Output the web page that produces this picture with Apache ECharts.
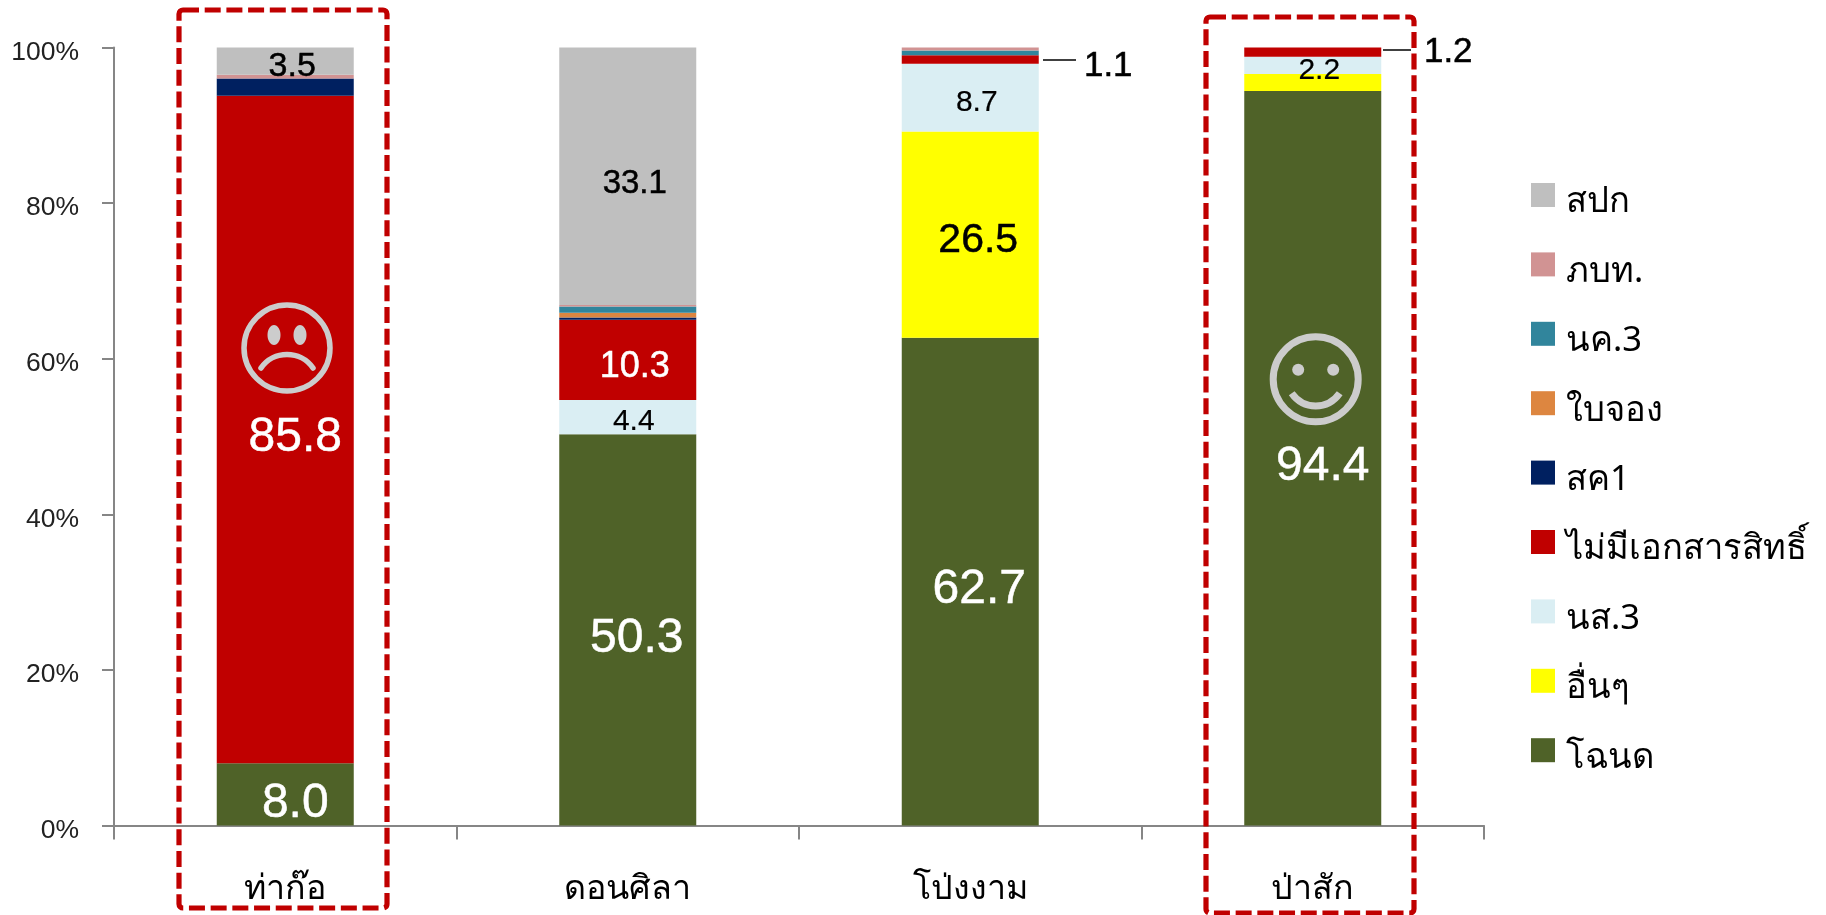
<!DOCTYPE html>
<html><head><meta charset="utf-8">
<style>html,body{margin:0;padding:0;background:#fff}#c{width:1826px;height:915px}</style>
<script src="https://cdn.jsdelivr.net/npm/echarts@6/dist/echarts.min.js"></script>
</head><body><div id="c"></div>
<script>
const categories = ['ท่าก๊อ','ดอนศิลา','โป่งงาม','ป่าสัก'];
const chanot   = [8.0, 50.3, 62.7, 94.4];   // โฉนด
const others   = [null, null, 26.5, 2.2];   // อื่นๆ
const ns3      = [null, 4.4, 8.7, 2.2];     // นส.3
const noDoc    = [85.8, 10.3, 1.1, 1.2];    // ไม่มีเอกสารสิทธิ์
const sk1      = [2.2, 0.3, null, null];    // สค1
const baijong  = [null, 0.6, null, null];   // ใบจอง
const nk3      = [null, 0.8, 0.6, null];    // นค.3
const pbt      = [0.5, 0.2, 0.4, null];     // ภบท.
const spk      = [3.5, 33.1, null, null];   // สปก
const tickLabels = ['0%','20%','40%','60%','80%','100%'];

const seriesDefs = [
  ['โฉนด', chanot, '#4F6228'],
  ['อื่นๆ', others, '#FFFF00'],
  ['นส.3', ns3, '#DAEEF3'],
  ['ไม่มีเอกสารสิทธิ์', noDoc, '#C00000'],
  ['สค1', sk1, '#002060'],
  ['ใบจอง', baijong, '#DD8640'],
  ['นค.3', nk3, '#31859C'],
  ['ภบท.', pbt, '#D19393'],
  ['สปก', spk, '#BFBFBF'],
];
const legendOrder = seriesDefs.map(d => d[0]).reverse();
const BASE = 'Liberation Sans';
const labelStyles = {
  'โฉนด|0':{size:48,color:'#fff',off:[10,9]},
  'โฉนด|1':{size:48,color:'#fff',off:[9,8.5]},
  'โฉนด|2':{size:48,color:'#fff',off:[9,8]},
  'โฉนด|3':{size:48,color:'#fff',off:[10,8.5]},
  'อื่นๆ|2':{size:41,color:'#000',off:[8,6.5]},
  'นส.3|1':{size:30,color:'#000',off:[6,5]},
  'นส.3|2':{size:30,color:'#000',off:[6.5,5]},
  'นส.3|3':{size:30,color:'#000',off:[6.5,5]},
  'ไม่มีเอกสารสิทธิ์|0':{size:48,color:'#fff',off:[10,8.5]},
  'ไม่มีเอกสารสิทธิ์|1':{size:36,color:'#fff',off:[7,7]},
  'ไม่มีเอกสารสิทธิ์|2':{size:35,color:'#000',off:[138,7]},
  'ไม่มีเอกสารสิทธิ์|3':{size:35,color:'#000',off:[135.5,0.5]},
  'สปก|0':{size:34,color:'#000',off:[7,6]},
  'สปก|1':{size:33,color:'#000',off:[7,7.5]},
};
const series = seriesDefs.map(([name, vals, color]) => ({
  name, type:'bar', stack:'t', barWidth:'40%', itemStyle:{color},
  emphasis:{disabled:true},
  data: vals.map((v,i) => {
    const s = labelStyles[name+'|'+i];
    return {value:v, label: s ? {show:true, position:'inside', formatter:v.toFixed(1),
      fontFamily:BASE, fontSize:s.size, color:s.color, offset:s.off,
      textBorderColor:s.color, textBorderWidth:s.size>=33?0.5:0.2} : {show:false}};
  })
}));

const faceColor = '#CCCCCC';
function frame(x1,y1,x2,y2){return {type:'rect',z:50,shape:{x:x1,y:y1,width:x2-x1,height:y2-y1,r:4},
  style:{fill:null,stroke:'#C00000',lineWidth:5.2,lineDash:[16,5.7]}};}
function leader(x1,x2,y){return {type:'line',z:40,shape:{x1,y1:y,x2,y2:y},style:{stroke:'#000',lineWidth:1.5}};}
function sadFace(cx,cy){
  return [
   {type:'circle',z:40,shape:{cx,cy,r:43},style:{fill:null,stroke:faceColor,lineWidth:5.5}},
   ...[-13,13].map(d=>({type:'ellipse',z:40,shape:{cx:cx+d,cy:cy-13,rx:6.5,ry:10},style:{fill:faceColor}})),
   {type:'bezierCurve',z:40,shape:{x1:cx-26,y1:cy+20,cpx1:cx-14,cpy1:cy+2,cpx2:cx+14,cpy2:cy+2,x2:cx+26,y2:cy+20},style:{fill:null,stroke:faceColor,lineWidth:5.5,lineCap:'round'}}
  ];
}
function happyFace(cx,cy){
  return [
   {type:'circle',z:40,shape:{cx,cy,r:42.5},style:{fill:null,stroke:faceColor,lineWidth:7}},
   ...[-17.5,17.5].map(d=>({type:'circle',z:40,shape:{cx:cx+d,cy:cy-9.5,r:6},style:{fill:faceColor}})),
   {type:'bezierCurve',z:40,shape:{x1:cx-24,y1:cy+14,cpx1:cx-12,cpy1:cy+31,cpx2:cx+12,cpy2:cy+31,x2:cx+24,y2:cy+14},style:{fill:null,stroke:faceColor,lineWidth:7}}
  ];
}
const chart = echarts.init(document.getElementById('c'),null,{renderer:'canvas'});
chart.setOption({
  animation:false, backgroundColor:'#fff',
  grid:{left:114,right:342,top:47.5,bottom:89.5,containLabel:false},
  xAxis:{type:'category',data:categories,
    axisLine:{lineStyle:{color:'#868686',width:2}},
    axisTick:{show:true,length:14,alignWithLabel:false,lineStyle:{color:'#868686',width:2}},
    axisLabel:{fontSize:34,color:'#000',margin:47,fontFamily:'Noto Sans, Liberation Sans'}},
  yAxis:{type:'value',min:0,max:100,interval:20,
    axisLine:{show:true,lineStyle:{color:'#868686',width:2}},
    axisTick:{show:true,length:12,lineStyle:{color:'#868686',width:2}},
    splitLine:{show:false},
    axisLabel:{fontSize:26.5,color:'#222',margin:35,fontFamily:BASE,verticalAlign:'top',lineHeight:10,
      formatter:(v)=>tickLabels[v/20]}},
  legend:{data:legendOrder,orient:'vertical',left:1526,top:178,itemWidth:24,itemHeight:24,itemGap:32.4,
    icon:'rect',selectedMode:false,
    formatter:(n)=>'{a|'+n+'}',
    textStyle:{rich:{a:{fontSize:34.5,color:'#000',padding:[15,0,0,6],fontFamily:'Noto Sans, Liberation Sans'}}}},
  series,
  graphic:{elements:[
    frame(179,10,387,908), frame(1206,17,1414,913),
    leader(1043,1076,60), leader(1383,1411,50),
    ...sadFace(287,348), ...happyFace(1315.7,379.3)
  ]}
});
</script></body></html>
